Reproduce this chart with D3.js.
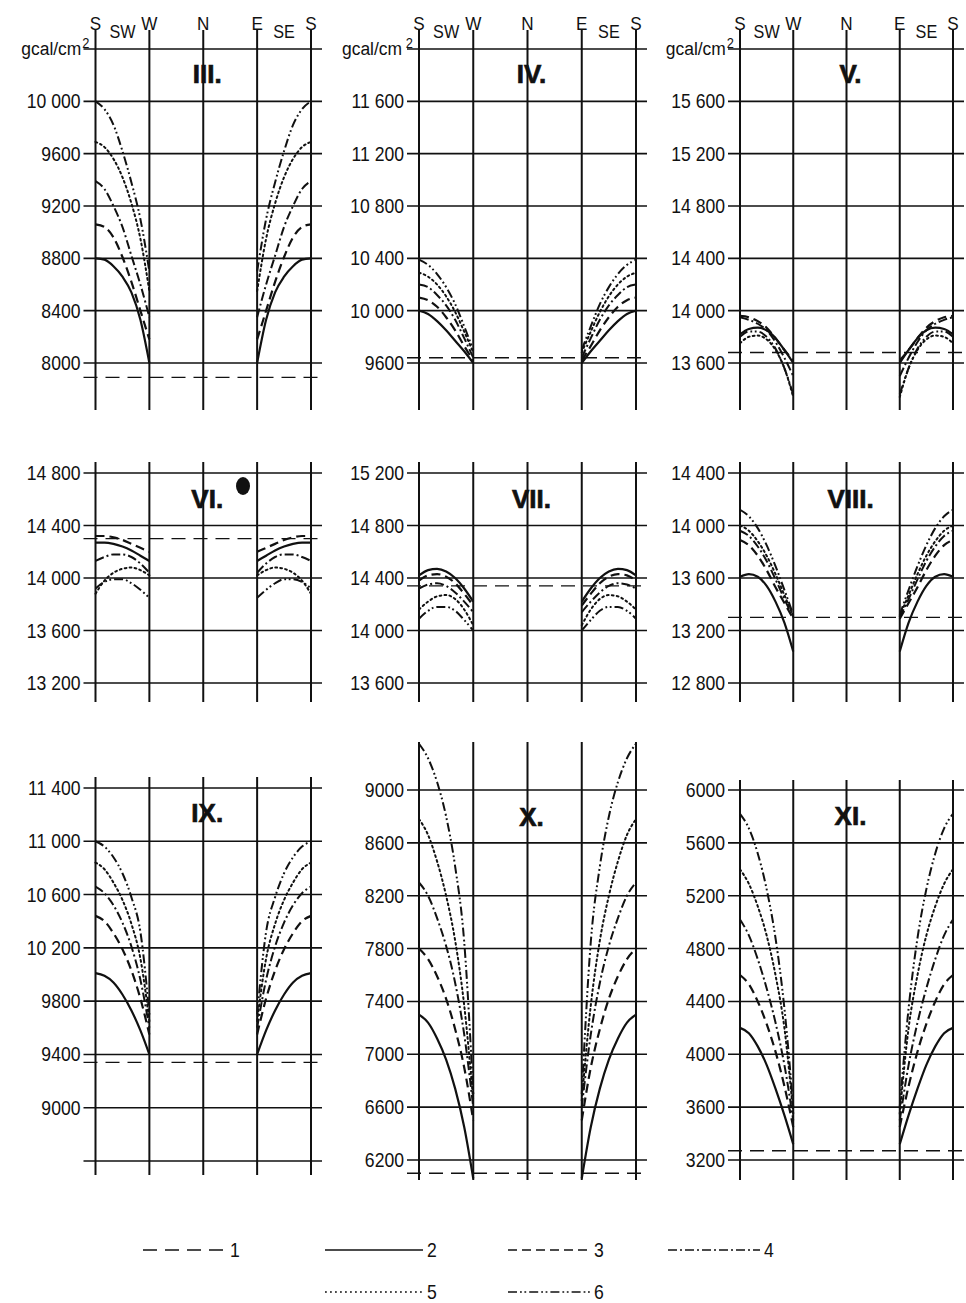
<!DOCTYPE html>
<html>
<head>
<meta charset="utf-8">
<script src="https://cdn.jsdelivr.net/npm/d3@7"></script>
<style>
  body { margin: 0; background: #fff; }
  svg { display: block; }
</style>
</head>
<body>
<svg id="chart" width="966" height="1303"></svg>
<script>
// ---- data -------------------------------------------------------------
// Monthly panels (March .. November)
const panelNames = ["III.", "IV.", "V.", "VI.", "VII.", "VIII.", "IX.", "X.", "XI."];

// Azimuth of the wall measured from S towards W (degrees); E side is mirrored
const azimuths = [0, 15, 30, 45, 60, 75, 90];

// Grid values (gcal/cm2) for each panel, top to bottom
const tickValues = [
  [10400, 10000, 9600, 9200, 8800, 8400, 8000],
  [12000, 11600, 11200, 10800, 10400, 10000, 9600],
  [16000, 15600, 15200, 14800, 14400, 14000, 13600],
  [14800, 14400, 14000, 13600, 13200],
  [15200, 14800, 14400, 14000, 13600],
  [14400, 14000, 13600, 13200, 12800],
  [11400, 11000, 10600, 10200, 9800, 9400, 9000, 8600],
  [9000, 8600, 8200, 7800, 7400, 7000, 6600, 6200],
  [6000, 5600, 5200, 4800, 4400, 4000, 3600, 3200]
];
const tickLabels = [
  ["gcal/cm", "10 000", "9600", "9200", "8800", "8400", "8000"],
  ["gcal/cm", "11 600", "11 200", "10 800", "10 400", "10 000", "9600"],
  ["gcal/cm", "15 600", "15 200", "14 800", "14 400", "14 000", "13 600"],
  ["14 800", "14 400", "14 000", "13 600", "13 200"],
  ["15 200", "14 800", "14 400", "14 000", "13 600"],
  ["14 400", "14 000", "13 600", "13 200", "12 800"],
  ["11 400", "11 000", "10 600", "10 200", "9800", "9400", "9000", ""],
  ["9000", "8600", "8200", "7800", "7400", "7000", "6600", "6200"],
  ["6000", "5600", "5200", "4800", "4400", "4000", "3600", "3200"]
];

// Series 1: horizontal reference level per panel
const series1 = [7890, 9640, 13680, 14300, 14340, 13300, 9340, 6100, 3270];

// Series 2..6: values at the azimuths above, one row per panel
const series2 = [
  [8800, 8790, 8740, 8660, 8540, 8330, 8000],
  [10000, 9975, 9920, 9850, 9770, 9690, 9600],
  [13820, 13860, 13870, 13850, 13790, 13700, 13600],
  [14270, 14270, 14260, 14240, 14210, 14170, 14130],
  [14420, 14460, 14470, 14450, 14400, 14320, 14220],
  [13610, 13630, 13610, 13540, 13420, 13260, 13040],
  [10010, 9990, 9940, 9850, 9730, 9580, 9400],
  [7300, 7240, 7120, 6960, 6740, 6450, 6060],
  [4200, 4160, 4060, 3920, 3740, 3540, 3320]
];
const series3 = [
  [9060, 9040, 8960, 8810, 8620, 8400, 8180],
  [10100, 10080, 10030, 9950, 9850, 9730, 9620],
  [13960, 13950, 13920, 13870, 13790, 13700, 13620],
  [14320, 14320, 14310, 14290, 14260, 14230, 14200],
  [14380, 14420, 14430, 14410, 14360, 14280, 14190],
  [13890, 13850, 13770, 13660, 13530, 13410, 13290],
  [10440, 10400, 10310, 10190, 10030, 9820, 9550],
  [7800, 7720, 7590, 7420, 7190, 6900, 6500],
  [4600, 4530, 4400, 4230, 4020, 3760, 3450]
];
const series4 = [
  [9390, 9330, 9200, 9040, 8820, 8600, 8350],
  [10200, 10180, 10120, 10040, 9930, 9790, 9640],
  [13950, 13930, 13900, 13850, 13760, 13640, 13500],
  [14130, 14160, 14180, 14180, 14160, 14110, 14040],
  [14320, 14350, 14360, 14340, 14290, 14220, 14140],
  [13960, 13920, 13840, 13730, 13590, 13440, 13300],
  [10660, 10610, 10520, 10390, 10210, 9960, 9600],
  [8300, 8200, 8030, 7820, 7540, 7150, 6600],
  [5020, 4900, 4720, 4500, 4240, 3920, 3500]
];
const series5 = [
  [9690, 9650, 9560, 9420, 9220, 8950, 8550],
  [10290, 10260, 10200, 10110, 9990, 9840, 9680],
  [13750, 13800, 13810, 13780, 13700, 13560, 13340],
  [13880, 13980, 14040, 14070, 14080, 14060, 14020],
  [14160, 14220, 14260, 14270, 14240, 14160, 14040],
  [14000, 13960, 13880, 13770, 13630, 13470, 13310],
  [10840, 10790, 10690, 10560, 10380, 10120, 9650],
  [8780, 8660, 8460, 8200, 7860, 7370, 6650],
  [5400, 5290, 5120, 4900, 4600, 4200, 3550]
];
const series6 = [
  [10000, 9940, 9820, 9620, 9380, 9100, 8700],
  [10390, 10350, 10280, 10180, 10050, 9880, 9700],
  [13800, 13840, 13840, 13800, 13710, 13560, 13360],
  [13920, 13970, 13990, 13990, 13960, 13910, 13850],
  [14090, 14150, 14180, 14180, 14150, 14080, 14000],
  [14120, 14070, 13980, 13850, 13690, 13510, 13320],
  [11000, 10960, 10880, 10760, 10580, 10320, 9700],
  [9350, 9240, 9060, 8800, 8420, 7850, 6700],
  [5820, 5710, 5520, 5250, 4880, 4350, 3600]
];

// Compass directions along the horizontal axis (degrees from S via W, N, E back to S)
const gridAngles = [0, 90, 180, 270, 360];
const compassLabels = ["S", "SW", "W", "N", "E", "SE", "S"];
const compassAngles = [0, 45, 90, 180, 270, 315, 360];

const legendLabels = ["1", "2", "3", "4", "5", "6"];

// ---- layout -------------------------------------------------------------
const colX = [[95.5, 311], [419, 636], [740, 953]];
// pixel position of first and last grid value in each panel
const yRanges = [
  [49, 363], [49, 363], [49, 363],
  [473, 683], [473, 683], [473, 683],
  [788, 1161], [790, 1160], [790, 1160]
];
// vertical extent of the compass lines
const vExtent = [
  [30, 410], [30, 410], [30, 410],
  [462, 702], [462, 702], [462, 702],
  [777, 1175], [742, 1180], [780, 1180]
];
const titleBaseline = [83, 83, 83, 508, 508, 508, 822, 826, 825];

const seriesStyle = {
  1: { w: 1.4, dash: "14,8" },
  2: { w: 2.2, dash: null },
  3: { w: 2.2, dash: "9,5" },
  4: { w: 2.0, dash: "9,3,2,3" },
  5: { w: 2.0, dash: "1.8,3.2" },
  6: { w: 2.0, dash: "9,3,1.8,2.6,1.8,3" }
};

const FONT = "'Liberation Sans', Arial, Helvetica, sans-serif";
const INK = "#111";

const svg = d3.select("#chart");
svg.append("rect").attr("width", 966).attr("height", 1303).attr("fill", "#fff");

// text drawn with a narrower set width (condensed face)
function condensedText(parent, x, y, str, size, sx, anchor) {
  return parent.append("text")
    .attr("transform", `translate(${x},${y}) scale(${sx},1)`)
    .attr("text-anchor", anchor || "start")
    .attr("font-family", FONT)
    .attr("font-size", size)
    .attr("fill", INK)
    .text(str);
}

const curveSeries = [series2, series3, series4, series5, series6];

panelNames.forEach((name, i) => {
  const col = i % 3, row = Math.floor(i / 3);
  const [xs, xe] = colX[col];
  const ticks = tickValues[i];
  const x = d3.scaleLinear().domain([0, 360]).range([xs, xe]);
  const y = d3.scaleLinear()
    .domain([ticks[0], ticks[ticks.length - 1]])
    .range(yRanges[i]);

  const g = svg.append("g").attr("class", "panel");

  // horizontal grid lines
  g.append("g").selectAll("line").data(ticks).join("line")
    .attr("x1", xs - 12).attr("x2", xe + 11)
    .attr("y1", d => y(d)).attr("y2", d => y(d))
    .attr("stroke", INK).attr("stroke-width", 1.6);

  // compass lines
  g.append("g").selectAll("line").data(gridAngles).join("line")
    .attr("x1", d => x(d)).attr("x2", d => x(d))
    .attr("y1", vExtent[i][0]).attr("y2", vExtent[i][1])
    .attr("stroke", INK).attr("stroke-width", 2);

  // value labels
  const lab = g.append("g");
  ticks.forEach((t, k) => {
    const s = tickLabels[i][k];
    if (!s) return;
    if (s === "gcal/cm") {
      const tx = condensedText(lab, xs - 6, y(t) + 6, null, 19, 0.92, "end");
      tx.append("tspan").text("gcal/cm");
      tx.append("tspan").attr("dy", -7).attr("dx", col === 1 ? 4 : 1).attr("font-size", 14).text("2");
    } else {
      condensedText(lab, xs - 15, y(t) + 7, s, 20, 0.88, "end");
    }
  });

  // compass labels on the top row
  if (row === 0) {
    compassLabels.forEach((d, k) => {
      const two = d.length > 1;
      condensedText(g, x(compassAngles[k]), two ? 38 : 30, d, two ? 18 : 19, 0.9, "middle");
    });
  }

  // panel title
  g.append("text")
    .attr("x", x(180) + 4).attr("y", titleBaseline[i])
    .attr("text-anchor", "middle")
    .attr("font-family", FONT)
    .attr("font-weight", "bold")
    .attr("font-size", 26)
    .attr("fill", INK)
    .attr("stroke", INK).attr("stroke-width", 0.7)
    .text(name);

  // series 1: constant level over the whole width
  const s1 = seriesStyle[1];
  g.append("line")
    .attr("x1", xs - 12).attr("x2", xe + 11)
    .attr("y1", y(series1[i])).attr("y2", y(series1[i]))
    .attr("stroke", INK).attr("stroke-width", s1.w)
    .attr("stroke-dasharray", s1.dash);

  // series 2..6 on the S–W side and mirrored on the E–S side
  const line = d3.line().curve(d3.curveMonotoneX);
  curveSeries.forEach((ser, si) => {
    const st = seriesStyle[si + 2];
    const vals = ser[i];
    const left = azimuths.map((a, k) => [x(a), y(vals[k])]);
    const right = azimuths.map((a, k) => [x(360 - a), y(vals[k])]).reverse();
    [left, right].forEach(pts => {
      g.append("path")
        .attr("d", line(pts))
        .attr("fill", "none")
        .attr("stroke", INK)
        .attr("stroke-width", st.w)
        .attr("stroke-dasharray", st.dash)
        .attr("stroke-linecap", si === 3 ? "round" : "butt");
    });
  });

  // ink spot printed in the June panel
  if (name === "VI.") {
    g.append("ellipse")
      .attr("cx", 243).attr("cy", 486).attr("rx", 7).attr("ry", 9)
      .attr("fill", INK);
  }
});

// ---- legend -------------------------------------------------------------
const legendPos = [
  { x1: 143, x2: 226, y: 1250 },
  { x1: 325, x2: 423, y: 1250 },
  { x1: 508, x2: 590, y: 1250 },
  { x1: 668, x2: 760, y: 1250 },
  { x1: 325, x2: 423, y: 1292 },
  { x1: 508, x2: 590, y: 1292 }
];
const lg = svg.append("g").attr("class", "legend");
legendLabels.forEach((lbl, k) => {
  const p = legendPos[k];
  const st = seriesStyle[k + 1];
  lg.append("line")
    .attr("x1", p.x1).attr("x2", p.x2).attr("y1", p.y).attr("y2", p.y)
    .attr("stroke", INK).attr("stroke-width", Math.min(st.w, 1.6))
    .attr("stroke-dasharray", st.dash);
  condensedText(lg, p.x2 + 4, p.y + 7, lbl, 20, 0.88, "start");
});
</script>
</body>
</html>
